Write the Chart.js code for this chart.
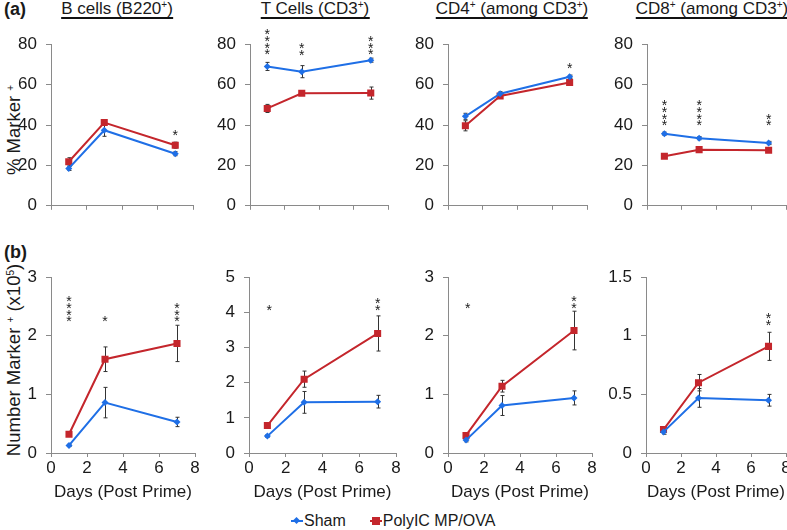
<!DOCTYPE html>
<html>
<head>
<meta charset="utf-8">
<script src="https://cdn.jsdelivr.net/npm/chart.js@4.4.1/dist/chart.umd.min.js"></script>
<style>
  body { margin: 0; width: 787px; height: 530px; overflow: hidden; background: #fff; position: relative;
         font-family: "Liberation Sans", Arial, sans-serif; color: #1a1a1a; }
  canvas { position: absolute; }
  .ttl { position: absolute; top: 0; font-size: 17px; line-height: 17px; white-space: nowrap;
         border-bottom: 2px solid #111; transform: translateX(-50%); }
  .ttl sup, .ytl sup { font-size: 10px; vertical-align: 6px; line-height: 0; }
  .tag { position: absolute; font-weight: bold; font-size: 18px; }
  .ytl { position: absolute; font-size: 18.5px; white-space: nowrap; transform: translate(-50%, -50%) rotate(-90deg); }
  .legend { position: absolute; top: 512px; left: 291px; font-size: 16px; display: flex; align-items: center; }
  .key { position: relative; display: inline-block; width: 12px; height: 16px; margin-right: 1px; }
  .key i { position: absolute; left: 0; right: 0; top: 7px; height: 2px; }
  .key b { position: absolute; }
</style>
</head>
<body>
<div class="tag" style="left:4px;top:-1px">(a)</div>
<div class="tag" style="left:4px;top:242px">(b)</div>
<div class="ttl" style="left:117px">B cells (B220<sup>+</sup>)</div>
<div class="ttl" style="left:315px">T Cells (CD3<sup>+</sup>)</div>
<div class="ttl" style="left:512px">CD4<sup>+</sup> (among CD3<sup>+</sup>)</div>
<div class="ttl" style="left:712px">CD8<sup>+</sup> (among CD3<sup>+</sup>)</div>
<div class="ytl" style="left:14px;top:130px">% Marker <sup>+</sup></div>
<div class="ytl" style="left:14px;top:360px">Number Marker <sup>+</sup> (x10<sup>5</sup>)</div>
<div class="legend">
  <span class="key"><i style="background:#1f6fe6"></i><b style="left:3px;top:5px;width:5px;height:5px;background:#1f6fe6;transform:rotate(45deg)"></b></span>
  <span style="margin-right:24px">Sham</span>
  <span class="key"><i style="background:#c4262c"></i><b style="left:2px;top:4px;width:8px;height:8px;background:#c4262c"></b></span>
  <span>PolyIC MP/OVA</span>
</div>

<canvas id="a1"></canvas><canvas id="a2"></canvas><canvas id="a3"></canvas><canvas id="a4"></canvas>
<canvas id="b1"></canvas><canvas id="b2"></canvas><canvas id="b3"></canvas><canvas id="b4"></canvas>

<script>
const days = [1, 3, 7];

// (a) % Marker+
const bCellsSham = [18.5, 37.4, 25.8];
const bCellsShamErr = [1, 3, 1];
const bCellsPoly = [21.8, 41.2, 30.0];
const bCellsPolyErr = [2, 1, 1.5];
const tCellsSham = [69.0, 66.4, 72.1];
const tCellsShamErr = [2, 3, 1];
const tCellsPoly = [48.2, 55.7, 55.8];
const tCellsPolyErr = [2, 1, 3];
const cd4Sham = [44.3, 55.5, 63.9];
const cd4ShamErr = [1.5, 1, 0.8];
const cd4Poly = [39.6, 54.4, 61.0];
const cd4PolyErr = [2.5, 1, 1];
const cd8Sham = [35.7, 33.5, 31.1];
const cd8ShamErr = [0.8, 0.8, 0.8];
const cd8Poly = [24.5, 27.8, 27.5];
const cd8PolyErr = [1, 0.8, 0.8];

// (b) Number Marker+ (x10^5)
const bCountSham = [0.13, 0.86, 0.53];
const bCountShamErr = [0.02, 0.26, 0.08];
const bCountPoly = [0.32, 1.60, 1.87];
const bCountPolyErr = [0.03, 0.21, 0.31];
const tCountSham = [0.48, 1.44, 1.46];
const tCountShamErr = [0.04, 0.31, 0.18];
const tCountPoly = [0.78, 2.10, 3.40];
const tCountPolyErr = [0.08, 0.23, 0.5];
const cd4CountSham = [0.22, 0.81, 0.94];
const cd4CountShamErr = [0.03, 0.17, 0.12];
const cd4CountPoly = [0.30, 1.14, 2.09];
const cd4CountPolyErr = [0.03, 0.1, 0.33];
const cd8CountSham = [0.18, 0.47, 0.45];
const cd8CountShamErr = [0.02, 0.08, 0.05];
const cd8CountPoly = [0.20, 0.60, 0.91];
const cd8CountPolyErr = [0.02, 0.07, 0.12];

// significance marks: [day, value of lowest star, number of stars]
const bCellsStars = [[7, 36.5, 1]];
const tCellsStars = [[1, 76.5, 4], [3, 76.3, 2], [7, 76.5, 3]];
const cd4Stars = [[7, 69.5, 1]];
const cd8Stars = [[1, 41.3, 4], [3, 41.3, 4], [7, 41.3, 2]];
const bCountStars = [[1, 2.30, 4], [3, 2.30, 1], [7, 2.30, 3]];
const tCountStars = [[1.1, 4.15, 1], [7, 4.15, 2]];
const cd4CountStars = [[1.1, 2.53, 1], [7, 2.53, 2]];
const cd8CountStars = [[7, 1.12, 2]];

const xTicks = [0, 2, 4, 6, 8];

Chart.defaults.font.family = '"Liberation Sans", Arial, sans-serif';
Chart.defaults.font.size = 16;
Chart.defaults.color = '#1a1a1a';

const BLUE = '#1f6fe6';
const RED = '#c4262c';
const AXIS = '#8a8a8a';

// error bars under the markers
const errorBars = {
  id: 'errorBars',
  beforeDatasetsDraw(chart) {
    const { ctx, scales: { x, y } } = chart;
    ctx.save();
    ctx.strokeStyle = '#333';
    ctx.lineWidth = 1;
    chart.data.datasets.forEach(ds => {
      ds.data.forEach((p, i) => {
        const px = Math.round(x.getPixelForValue(p.x)) + 0.5;
        const top = y.getPixelForValue(p.y + ds.errors[i]);
        const bot = y.getPixelForValue(p.y - ds.errors[i]);
        ctx.beginPath();
        ctx.moveTo(px, top); ctx.lineTo(px, bot);
        ctx.moveTo(px - 2, top); ctx.lineTo(px + 2, top);
        ctx.moveTo(px - 2, bot); ctx.lineTo(px + 2, bot);
        ctx.stroke();
      });
    });
    ctx.restore();
  }
};

// stacked asterisks
function starsPlugin(marks) {
  return {
    id: 'stars',
    afterDraw(chart) {
      const { ctx, scales: { x, y } } = chart;
      ctx.save();
      ctx.fillStyle = '#1a1a1a';
      ctx.font = '14px "Liberation Sans", Arial, sans-serif';
      ctx.textAlign = 'center';
      ctx.textBaseline = 'alphabetic';
      marks.forEach(([d, v, n]) => {
        const px = x.getPixelForValue(d);
        const py = y.getPixelForValue(v);
        for (let k = 0; k < n; k++) {
          ctx.fillText('*', px, py + 8 - k * 6.7);
        }
      });
      ctx.restore();
    }
  };
}

function series(label, vals, errs, color, style, radius) {
  return {
    label,
    data: days.map((d, i) => ({ x: d, y: vals[i] })),
    errors: errs,
    borderColor: color,
    backgroundColor: color,
    borderWidth: 2,
    pointStyle: style,
    pointRadius: radius,
    pointBorderWidth: 0,
    tension: 0
  };
}

function makeChart(id, geo, yMax, yStep, sham, shamErr, poly, polyErr, marks, bottomRow) {
  const canvas = document.getElementById(id);
  const padTop = bottomRow ? 14 : 12;
  const xH = bottomRow ? 54 : 6;
  const padRight = 8;
  canvas.width = 40 + geo.w + padRight;
  canvas.height = padTop + geo.h + xH;
  canvas.style.left = (geo.axis - 40) + 'px';
  canvas.style.top = (geo.top - padTop) + 'px';

  new Chart(canvas, {
    type: 'line',
    data: {
      datasets: [
        series('Sham', sham, shamErr, BLUE, 'rectRot', 3.5),
        series('PolyIC MP/OVA', poly, polyErr, RED, 'rect', 5)
      ]
    },
    options: {
      responsive: false,
      animation: false,
      events: [],
      layout: { padding: { top: padTop, right: padRight, left: 0, bottom: 0 } },
      plugins: { legend: { display: false }, tooltip: { enabled: false } },
      scales: {
        x: {
          type: 'linear', min: 0, max: 8,
          afterBuildTicks: s => { s.ticks = xTicks.map(v => ({ value: v })); },
          afterFit: s => { s.height = xH; },
          border: { color: AXIS, width: 1 },
          grid: { drawOnChartArea: false, drawTicks: true, tickLength: 4, color: AXIS },
          ticks: { display: bottomRow, padding: 1, maxRotation: 0, color: '#1a1a1a', font: { size: 17 } },
          title: { display: bottomRow, text: 'Days (Post Prime)', font: { size: 17 }, padding: { top: 0, bottom: 4 } }
        },
        y: {
          min: 0, max: yMax,
          ticks: { stepSize: yStep, padding: 9, callback: v => String(v), font: { size: 17 } },
          afterFit: s => { s.width = 40; },
          border: { color: AXIS, width: 1 },
          grid: { drawOnChartArea: false, drawTicks: true, tickLength: 5, color: AXIS }
        }
      }
    },
    plugins: [errorBars, starsPlugin(marks)]
  });
}

const topGeo = [
  { axis: 51, w: 142, top: 37, h: 182 },
  { axis: 250, w: 138, top: 37, h: 182 },
  { axis: 448, w: 139, top: 37, h: 182 },
  { axis: 647, w: 139, top: 37, h: 182 }
];
const botGeo = [
  { axis: 51, w: 144, top: 272, h: 181 },
  { axis: 249, w: 147, top: 272, h: 181 },
  { axis: 448, w: 144, top: 272, h: 181 },
  { axis: 646, w: 140, top: 272, h: 181 }
];

makeChart('a1', topGeo[0], 80, 20, bCellsSham, bCellsShamErr, bCellsPoly, bCellsPolyErr, bCellsStars, false);
makeChart('a2', topGeo[1], 80, 20, tCellsSham, tCellsShamErr, tCellsPoly, tCellsPolyErr, tCellsStars, false);
makeChart('a3', topGeo[2], 80, 20, cd4Sham, cd4ShamErr, cd4Poly, cd4PolyErr, cd4Stars, false);
makeChart('a4', topGeo[3], 80, 20, cd8Sham, cd8ShamErr, cd8Poly, cd8PolyErr, cd8Stars, false);

makeChart('b1', botGeo[0], 3, 1, bCountSham, bCountShamErr, bCountPoly, bCountPolyErr, bCountStars, true);
makeChart('b2', botGeo[1], 5, 1, tCountSham, tCountShamErr, tCountPoly, tCountPolyErr, tCountStars, true);
makeChart('b3', botGeo[2], 3, 1, cd4CountSham, cd4CountShamErr, cd4CountPoly, cd4CountPolyErr, cd4CountStars, true);
makeChart('b4', botGeo[3], 1.5, 0.5, cd8CountSham, cd8CountShamErr, cd8CountPoly, cd8CountPolyErr, cd8CountStars, true);
</script>
</body>
</html>
